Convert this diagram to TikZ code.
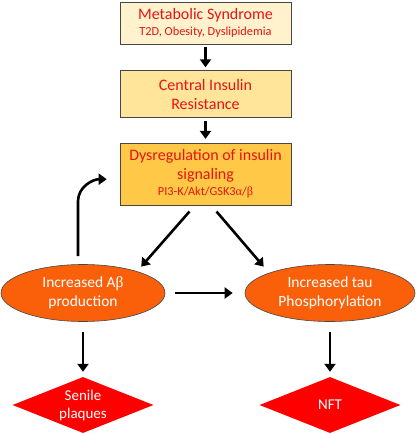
\documentclass[tikz,border=0pt]{standalone}
\usepackage{fontspec}
\setmainfont{Carlito}
\newfontfamily\grk{Liberation Serif}
\usetikzlibrary{shapes, arrows.meta, positioning}

\definecolor{txtred}{RGB}{230,20,20}
\definecolor{ylwA}{RGB}{255,242,204}
\definecolor{ylwB}{RGB}{255,229,153}
\definecolor{ylwC}{RGB}{255,200,70}
\definecolor{orng}{RGB}{250,96,10}
\definecolor{bordr}{RGB}{70,70,70}

\newcommand{\subtxt}[1]{{\fontsize{12.3}{14}\selectfont #1}}

\begin{document}
\begin{tikzpicture}[
	x=1pt, y=-1pt,
	node distance=26pt,
	sbox/.style = {shape=rectangle, draw=bordr, line width=0.6pt, text=txtred, minimum width=171pt, inner sep=2pt, align=center, font=\fontsize{16}{19}\selectfont},
	oval/.style = {shape=ellipse, draw=bordr, line width=0.6pt, fill=orng, text=white, inner sep=0pt, align=center, font=\fontsize{15.5}{19}\selectfont},
	dmnd/.style = {shape=diamond, draw=none, fill=red, text=white, inner sep=0pt, aspect=2.5, align=center, font=\fontsize{15}{18}\selectfont},
	arr/.style = {draw, line width=2.6pt, -{Triangle[length=8pt,width=11pt]}},
	]
\useasboundingbox (0,0) rectangle (416,434);
% boxes, from top to bottom
\node[sbox, fill=ylwA, minimum height=42pt] (ms) at (205.5,23) {Metabolic Syndrome \\[-3pt] \subtxt{T2D, Obesity, Dyslipidemia}};
\node[sbox, fill=ylwB, minimum height=47pt] (cir) [below=of ms] {Central Insulin \\ Resistance};
\node[sbox, fill=ylwC, minimum height=62pt] (dis) [below=25pt of cir] {Dysregulation of insulin \\ signaling \\[-3pt] \subtxt{PI3-K/Akt/GSK3{\grk α}/{\grk β}}};
% ellipses
\node[oval, minimum width=164pt, minimum height=57pt] (abeta) at (83,293) {Increased A{\grk β} \\ production};
\node[oval, minimum width=170pt, minimum height=57pt] (tau) at (330,293) {Increased tau \\ Phosphorylation};
% diamonds
\node[dmnd, minimum width=141pt, minimum height=56pt] (sp) [below=55pt of abeta] {Senile \\ plaques};
\node[dmnd, minimum width=141pt, minimum height=56pt] (nft) [below=55pt of tau] {NFT};
% arrows
\draw[arr, shorten <=3pt, shorten >=3pt] (ms) -- (cir);
\draw[arr, shorten <=3pt, shorten >=4pt] (cir) -- (dis);
\draw[arr] ([xshift=-16pt,yshift=-6pt]dis.south) -- ([yshift=6pt]abeta.north east);
\draw[arr] ([xshift=11pt,yshift=-6pt]dis.south) -- ([xshift=-6pt,yshift=6pt]tau.north west);
\draw[arr, shorten <=10pt, shorten >=12pt] (abeta) -- (tau);
\draw[arr, shorten <=10pt, shorten >=5pt] (abeta) -- (sp);
\draw[arr, shorten <=10pt, shorten >=5pt] (tau) -- (nft);
% loop back
\draw[arr] ([xshift=-5pt,yshift=8pt]abeta.north) -- ++(0,-55) to[out=90, in=180] ([xshift=-13pt,yshift=-5pt]dis.west);
\end{tikzpicture}
\end{document}
